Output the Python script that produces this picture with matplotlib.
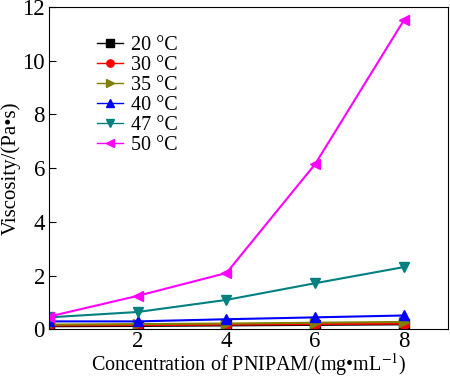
import matplotlib
matplotlib.use("Agg")
import matplotlib.pyplot as plt

plt.rcParams['font.family'] = ['Liberation Serif', 'DejaVu Serif']
plt.rcParams['mathtext.fontset'] = 'stix'

# concentration (mg/mL)
conc = [0, 2, 4, 6, 8]

# viscosity (Pa*s) per temperature
v20 = [0.12, 0.13, 0.15, 0.17, 0.19]
v30 = [0.15, 0.16, 0.18, 0.20, 0.22]
v35 = [0.18, 0.20, 0.22, 0.25, 0.28]
v40 = [0.30, 0.30, 0.38, 0.45, 0.52]
v47 = [0.45, 0.65, 1.10, 1.72, 2.32]
v50 = [0.48, 1.25, 2.10, 6.15, 11.5]

labels = ['20 °C', '30 °C', '35 °C', '40 °C', '47 °C', '50 °C']
series = [v20, v30, v35, v40, v47, v50]
colors = ['black', 'red', '#808000', 'blue', '#008080', 'magenta']
markers = ['s', 'o', '>', '^', 'v', '<']

xticks = [0, 2, 4, 6, 8]
xticklabels = ['', '2', '4', '6', '8']
yticks = [0, 2, 4, 6, 8, 10, 12]

fig = plt.figure(figsize=(4.5, 3.8), dpi=100)
ax = fig.add_axes([0.109, 0.133, 0.887, 0.849])

for y, lab, c, m in zip(series, labels, colors, markers):
    ax.plot(conc, y, color=c, marker=m, markersize=7, linewidth=1.5, label=lab)

ax.set_xlim(0, 9)
ax.set_ylim(0, 12)
ax.set_xticks(xticks)
ax.set_xticklabels(xticklabels)
ax.set_yticks(yticks)
ax.tick_params(direction='in', labelsize=16.5, top=False, right=False, length=5, pad=3)
ax.tick_params(axis='x', pad=1)
ax.set_xlabel('Concentration of PNIPAM/(mg•mL$^{-1}$)', fontsize=14.5, labelpad=-0.5)
ax.set_ylabel('Viscosity/(Pa•s)', fontsize=15, labelpad=1)

leg = ax.legend(loc='upper left', bbox_to_anchor=(0.085, 0.955), frameon=False,
                fontsize=14.5, handlelength=1.3, handletextpad=0.4,
                labelspacing=0.05, borderpad=0.2, markerscale=0.75)
for h in leg.get_lines():
    h.set_linewidth(1.0)

fig.savefig('out.png', dpi=100)
